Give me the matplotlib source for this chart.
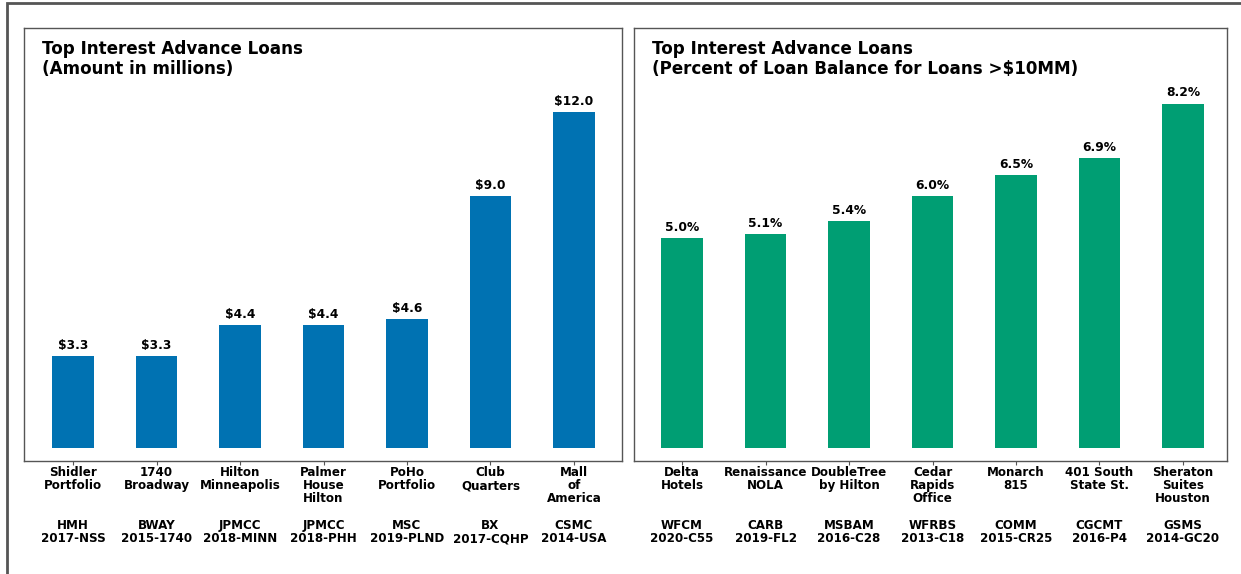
import matplotlib
matplotlib.use("Agg")
import matplotlib.pyplot as plt
from matplotlib.patches import Rectangle

left_names = ["Shidler\nPortfolio", "1740\nBroadway", "Hilton\nMinneapolis",
              "Palmer\nHouse\nHilton", "PoHo\nPortfolio", "Club\nQuarters",
              "Mall\nof\nAmerica"]
left_codes = ["HMH\n2017-NSS", "BWAY\n2015-1740", "JPMCC\n2018-MINN",
              "JPMCC\n2018-PHH", "MSC\n2019-PLND", "BX\n2017-CQHP", "CSMC\n2014-USA"]
left_values = [3.3, 3.3, 4.4, 4.4, 4.6, 9.0, 12.0]

right_names = ["Delta\nHotels", "Renaissance\nNOLA", "DoubleTree\nby Hilton",
               "Cedar\nRapids\nOffice", "Monarch\n815", "401 South\nState St.",
               "Sheraton\nSuites\nHouston"]
right_codes = ["WFCM\n2020-C55", "CARB\n2019-FL2", "MSBAM\n2016-C28",
               "WFRBS\n2013-C18", "COMM\n2015-CR25", "CGCMT\n2016-P4", "GSMS\n2014-GC20"]
right_values = [5.0, 5.1, 5.4, 6.0, 6.5, 6.9, 8.2]

W, H = 1241, 574
fig = plt.figure(figsize=(W / 100, H / 100), dpi=100)

# outer frame
fig.patches.append(Rectangle((7 / W, -0.1), 1.2, 1 - 3 / H + 0.1, transform=fig.transFigure,
                             fill=False, edgecolor="#555555", linewidth=2))


def make_label(name, code):
    n = name.count("\n") + 1
    return name + "\n" * (5 - n) + code


def panel(rect, names, codes, values, color, xlim, ylim, fmt, title):
    ax = fig.add_axes(rect)
    x = list(range(len(values)))
    ax.bar(x, values, width=0.5, color=color)
    ax.set_xlim(*xlim)
    ax.set_ylim(*ylim)
    ax.set_yticks([])
    ax.set_xticks(x)
    ax.set_xticklabels([make_label(n, c) for n, c in zip(names, codes)],
                       fontsize=8.6, fontweight="bold", linespacing=1.03)
    ax.tick_params(axis="x", length=3, color="#555555", pad=0.5)
    for s in ax.spines.values():
        s.set_color("#555555")
        s.set_linewidth(1.0)
    for xi, v in zip(x, values):
        ax.annotate(fmt.format(v), (xi, v), xytext=(0, 3), textcoords="offset points",
                    ha="center", va="bottom", fontsize=8.8, fontweight="bold")
    ax.text(0.03, 0.972, title, transform=ax.transAxes, ha="left", va="top",
            fontsize=12.1, fontweight="bold", linespacing=1.15)
    return ax


axh = (461 - 28) / H
panel([24 / W, 1 - 461 / H, (622 - 24) / W, axh], left_names, left_codes, left_values,
      "#0072B2", (-0.587, 6.575), (-0.46, 15), "${:.1f}",
      "Top Interest Advance Loans\n(Amount in millions)")
panel([634 / W, 1 - 461 / H, (1227 - 634) / W, axh], right_names, right_codes, right_values,
      "#009E73", (-0.575, 6.527), (-0.31, 10), "{:.1f}%",
      "Top Interest Advance Loans\n(Percent of Loan Balance for Loans >$10MM)")

fig.savefig("out.png", dpi=100)
